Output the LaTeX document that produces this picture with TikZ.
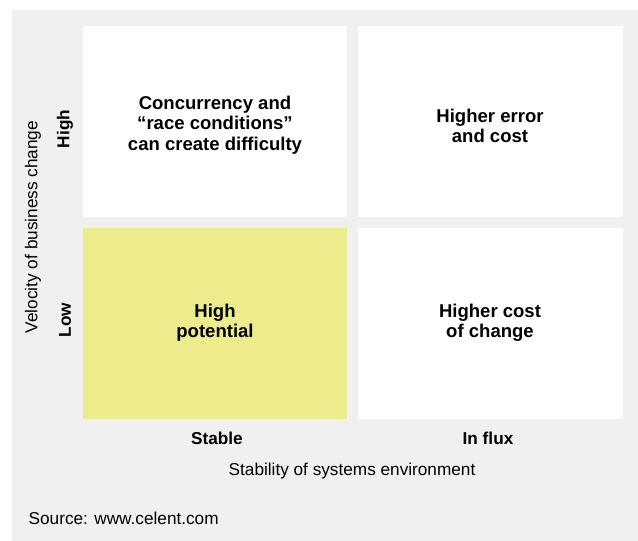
\documentclass[tikz,border=0pt]{standalone}
\usepackage{fontspec}
\setmainfont{Liberation Sans}
\usetikzlibrary{positioning}
\definecolor{panelgray}{RGB}{240,240,240}
\definecolor{stableyellow}{RGB}{237,236,140}
\tikzset{
	quadtext/.style={align=center, font=\fontsize{13.9}{15.2}\selectfont\bfseries},
	axistick/.style={font=\fontsize{12.9}{14}\selectfont\bfseries},
	axistitle/.style={font=\fontsize{12.9}{14}\selectfont}
}

\begin{document}
\begin{tikzpicture}[x=0.75pt, y=-0.75pt]
			%%%%% START %%%%%
			
			\useasboundingbox (0, 0) rectangle (638, 541);
			\fill[panelgray] (12, 10) rectangle (638, 541);
			
			\fill[white] (83, 26) rectangle (347, 217);
			\fill[white] (358, 26) rectangle (623, 217);
			\fill[stableyellow] (83, 228) rectangle (347, 419);
			\fill[white] (358, 228) rectangle (623, 419);
			
			\node[quadtext] (tl) at (215, 125) {Concurrency and\\``race conditions''\\can create difficulty};
			\node[quadtext] (tr) at (490, 126) {Higher error\\and cost};
			\node[quadtext] (bl) at (215, 323) {High\\potential};
			\node[quadtext] (br) at (490, 323) {Higher cost\\of change};
			
			\node[axistick, rotate=90] (high) at (65, 129) {High};
			\node[axistick, rotate=90] (low) at (65, 320) {Low};
			\node[axistitle, rotate=90] (velocity) at (33, 227) {Velocity of business change};
			
			\node[axistick] (stable) at (217, 438) {Stable};
			\node[axistick] (influx) at (488, 438) {In flux};
			\node[axistitle] (stability) at (352, 471) {Stability of systems environment};
			
			\node[axistitle, anchor=west] (source) at (24, 518) {Source: www.celent.com};
			
			%%%%% END %%%%%
		\end{tikzpicture}
\end{document}
